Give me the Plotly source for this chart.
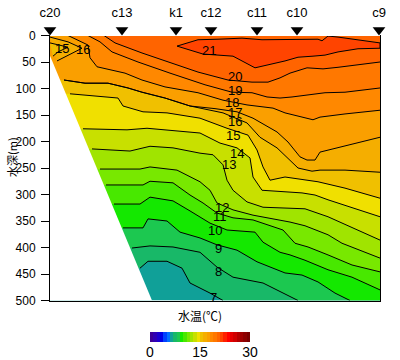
import plotly.graph_objects as go

stations = ["c20", "c13", "k1", "c12", "c11", "c10", "c9"]
station_x = [0, 72, 126, 161, 207, 247, 329]
depth_ticks = [0, 50, 100, 150, 200, 250, 300, 350, 400, 450, 500]
seabed_x = [0, 102, 0]
seabed_d = [38, 500, 500]

iso7_x = [90, 98, 117, 132, 140, 150, 160, 173]
iso7_d = [439, 426, 426, 439, 467, 476, 486, 500]
iso8_x = [82, 100, 123, 150, 167, 183, 213, 235, 248]
iso8_d = [401, 397, 399, 409, 437, 456, 467, 488, 500]
iso9_x = [73, 93, 98, 117, 130, 150, 167, 187, 207, 235, 252, 268, 285, 300]
iso9_d = [363, 363, 346, 350, 371, 382, 395, 405, 427, 448, 452, 465, 486, 500]
iso10_x = [64, 90, 100, 123, 140, 160, 177, 205, 213, 230, 240, 255, 278, 302, 330]
iso10_d = [318, 318, 305, 312, 331, 354, 367, 371, 390, 409, 414, 424, 442, 456, 480]
iso11_x = [56, 93, 100, 123, 140, 153, 167, 183, 203, 233, 245, 258, 278, 302, 330]
iso11_d = [282, 282, 275, 278, 301, 316, 335, 344, 348, 367, 392, 399, 414, 433, 446]
iso12_x = [50, 90, 100, 127, 150, 160, 167, 183, 203, 240, 255, 278, 292, 330]
iso12_d = [252, 252, 248, 254, 276, 292, 316, 329, 339, 352, 359, 376, 392, 420]
iso13_x = [42, 80, 100, 123, 150, 163, 173, 177, 183, 197, 213, 235, 255, 278, 330]
iso13_d = [214, 218, 209, 212, 222, 225, 244, 273, 292, 314, 324, 325, 327, 342, 386]
iso14_x = [33, 77, 97, 150, 170, 187, 200, 203, 212, 240, 252, 265, 278, 330]
iso14_d = [176, 178, 175, 184, 203, 212, 231, 267, 292, 295, 297, 301, 310, 342]
iso15_x = [20, 68, 73, 93, 117, 150, 177, 198, 207, 213, 220, 235, 268, 295, 330]
iso15_d = [110, 118, 133, 144, 146, 156, 175, 188, 216, 248, 273, 267, 276, 288, 307]
iso16_x = [14, 35, 58, 78, 92, 115, 140, 173, 197, 210, 227, 240, 248, 262, 270, 295, 330]
iso16_d = [84, 90, 90, 99, 107, 118, 133, 146, 165, 192, 212, 235, 250, 256, 254, 254, 258]
iso17_x = [14, 35, 58, 78, 92, 115, 140, 165, 187, 203, 227, 238, 250, 257, 265, 270, 330]
iso17_d = [84, 90, 90, 99, 107, 118, 133, 138, 144, 156, 182, 201, 229, 235, 235, 220, 192]
iso18_x = [18, 38, 40, 47, 75, 92, 115, 148, 173, 197, 223, 235, 263, 270, 295, 330]
iso18_d = [0, 18, 42, 59, 71, 84, 97, 108, 122, 131, 137, 146, 159, 154, 148, 141]
iso19_x = [38, 50, 62, 88, 120, 155, 182, 202, 217, 230, 242, 257, 275, 295, 330]
iso19_d = [0, 12, 31, 50, 71, 93, 107, 108, 116, 118, 116, 112, 108, 107, 99]
iso20_x = [54, 65, 92, 115, 132, 148, 178, 202, 218, 230, 240, 257, 273, 288, 330]
iso20_d = [0, 14, 33, 48, 59, 69, 84, 88, 88, 80, 71, 61, 63, 60, 50]
iso21_x = [127, 148, 168, 192, 212, 230, 235, 268, 272, 278, 288, 308, 330, 330, 308, 288, 275, 263, 248, 235, 205, 183, 153]
iso21_d = [20, 8, 7, 5, 8, 8, 7, 7, 10, 1, 3, 8, 14, 24, 25, 31, 37, 39, 41, 48, 61, 39, 35]
tongue16_x = [0, 18, 32, 18, 7]
tongue16_d = [3, 12, 24, 37, 48]
tongue15_x = [0, 10, 18, 8, 3]
tongue15_d = [14, 18, 22, 31, 39]

label_text = ["15", "16", "21", "20", "19", "18", "17", "16", "15", "14", "13", "12", "11", "10", "9", "8", "7"]
label_x = [12, 33, 159, 185, 185, 182, 185, 185, 183, 187, 179, 172, 170, 165, 168, 168, 163]
label_d = [24, 27, 29, 78, 103, 127, 146, 163, 188, 222, 244, 325, 342, 367, 401, 446, 495]

band_colors = ["#3c0096", "#3000b4", "#1c00d0", "#0000e6", "#0040ff", "#0070ff", "#10a098",
               "#18b868", "#1cc850", "#14e800", "#48e800", "#78e800", "#a0e400", "#c8e000",
               "#f0e000", "#f0c000", "#f5ae00", "#fa9f00", "#ff8800", "#ff7800", "#ff6400",
               "#ff4400", "#ff2000", "#ff0000", "#e60000", "#d00000", "#b40000", "#a00000",
               "#8c0000", "#780000"]
cbar_values = list(range(30))
cbar_ticks = [0, 15, 30]

XMAX, DMAX = 330, 500
FONT = "Liberation Sans, sans-serif"
CJK = "Noto Sans CJK JP"

open_lines = {7: (iso7_x, iso7_d), 8: (iso8_x, iso8_d), 9: (iso9_x, iso9_d), 10: (iso10_x, iso10_d),
              11: (iso11_x, iso11_d), 12: (iso12_x, iso12_d), 13: (iso13_x, iso13_d), 14: (iso14_x, iso14_d),
              15: (iso15_x, iso15_d), 16: (iso16_x, iso16_d), 17: (iso17_x, iso17_d), 18: (iso18_x, iso18_d),
              19: (iso19_x, iso19_d), 20: (iso20_x, iso20_d)}

fig = go.Figure()


def area(xs, ds, color):
    fig.add_trace(go.Scatter(x=xs, y=ds, mode="lines", fill="toself", fillcolor=color,
                             line=dict(width=0, color=color), hoverinfo="skip", showlegend=False))


area([0, XMAX, XMAX, 0], [0, 0, DMAX, DMAX], band_colors[6])
for t, (xs, ds) in open_lines.items():
    px, pd = list(xs), list(ds)
    if xs[-1] < XMAX:
        px.append(XMAX); pd.append(DMAX)
    px.append(XMAX); pd.append(0)
    if ds[0] > 0:
        px.append(0); pd.append(0)
        px.append(0); pd.append(ds[0])
    area(px, pd, band_colors[t])
area(iso21_x, iso21_d, band_colors[21])
area(tongue16_x, tongue16_d, band_colors[16])
area(tongue15_x, tongue15_d, band_colors[15])
area(seabed_x, seabed_d, "#ffffff")

for xs, ds in list(open_lines.values()) + [(iso21_x + iso21_x[:1], iso21_d + iso21_d[:1]),
                                           (tongue16_x, tongue16_d), (tongue15_x, tongue15_d)]:
    fig.add_trace(go.Scatter(x=xs, y=ds, mode="lines", line=dict(color="black", width=1),
                             hoverinfo="skip", showlegend=False))

fig.add_trace(go.Scatter(x=station_x, y=[0.5] * len(station_x), mode="markers", cliponaxis=False,
                         marker=dict(symbol="triangle-down", size=11, color="black"),
                         xaxis="x3", yaxis="y3", hoverinfo="skip", showlegend=False))

fig.add_trace(go.Heatmap(x=[v + 0.5 for v in cbar_values], y=[0], z=[cbar_values],
                         colorscale=[[i / 29, c] for i, c in enumerate(band_colors)],
                         showscale=False, xaxis="x2", yaxis="y2", hoverinfo="skip"))

annotations = [dict(x=x, y=d, text=t, xref="x", yref="y", showarrow=False,
                    font=dict(family=FONT, size=13, color="black"))
               for t, x, d in zip(label_text, label_x, label_d)]
annotations += [
    dict(x=12 / 400, y=1 - 157 / 360, xref="paper", yref="paper", xanchor="center", yanchor="middle",
         text="水深(m)", textangle=-90, showarrow=False, font=dict(family=CJK, size=11, color="black")),
    dict(x=200 / 400, y=1 - 315 / 360, xref="paper", yref="paper", xanchor="center", yanchor="middle",
         text="水温(℃)", showarrow=False, font=dict(family=CJK, size=12, color="black")),
]

fig.update_layout(
    width=400, height=360, autosize=False, margin=dict(l=0, r=0, t=0, b=0),
    paper_bgcolor="white", plot_bgcolor="white", showlegend=False, annotations=annotations,
    xaxis=dict(domain=[50 / 400, 380 / 400], range=[0, XMAX], side="top", tickmode="array", tickvals=station_x,
               ticktext=stations, ticks="outside", ticklen=12, tickcolor="rgba(0,0,0,0)", showgrid=False, zeroline=False,
               showline=True, mirror=True, linecolor="black", linewidth=1, layer="above traces",
               tickfont=dict(family=FONT, size=13, color="black"), automargin=False),
    yaxis=dict(domain=[1 - 300.5 / 360, 1 - 35.5 / 360], range=[DMAX, 0], tickmode="array", tickvals=depth_ticks,
               ticks="outside", ticklen=8, tickcolor="black", showgrid=False, zeroline=False, showline=True,
               mirror=True, linecolor="black", linewidth=1, layer="above traces", ticklabelstandoff=3,
               tickfont=dict(family=FONT, size=12, color="black"), automargin=False),
    xaxis2=dict(domain=[150 / 400, 250 / 400], range=[0, 30], anchor="y2", tickmode="array", tickvals=cbar_ticks,
                ticks="", showgrid=False, zeroline=False,
                tickfont=dict(family=FONT, size=14, color="black"), automargin=False),
    yaxis2=dict(domain=[1 - 342 / 360, 1 - 332 / 360], anchor="x2", visible=False),
    xaxis3=dict(domain=[50 / 400, 380 / 400], range=[0, XMAX], anchor="y3", visible=False),
    yaxis3=dict(domain=[1 - 36 / 360, 1 - 24 / 360], range=[0, 1], anchor="x3", visible=False),
)

fig.write_html("out.html", config={"displayModeBar": False}, post_script="document.body.style.margin='0';")
